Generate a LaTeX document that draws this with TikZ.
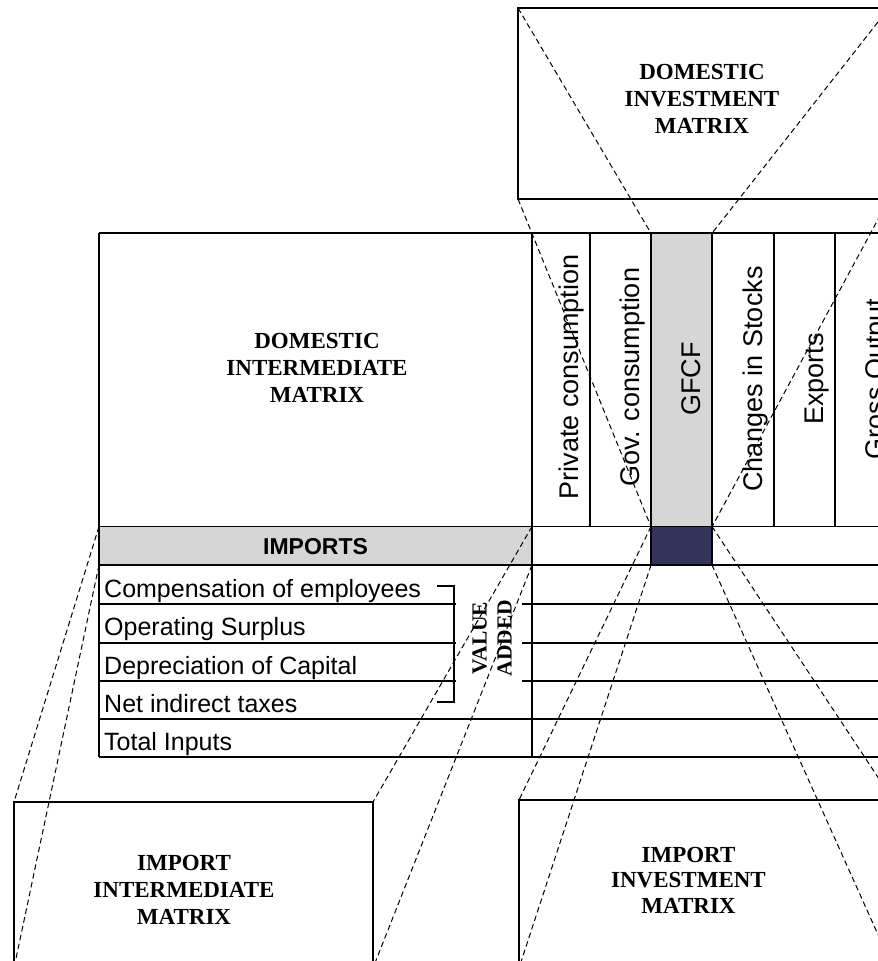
\documentclass[tikz,border=0pt]{standalone}
\usepackage{fontspec}
\setmainfont{Liberation Serif}
\setsansfont{Liberation Sans}
\definecolor{stipple}{HTML}{D6D6D6}
\definecolor{stippledark}{HTML}{34345A}
\begin{document}
\begin{tikzpicture}[x=1pt,y=-1pt,
  grid/.style={line width=1.7pt},
  frame/.style={draw, line width=1.3pt, inner sep=0pt, outer sep=0pt},
  cell/.style={inner sep=0pt, outer sep=0pt},
  title/.style={font=\bfseries\fontsize{23}{27}\selectfont, align=center, inner sep=0pt},
  rowlabel/.style={font=\sffamily\fontsize{25}{30}\selectfont, anchor=base west, inner sep=0pt},
  collabel/.style={font=\sffamily\fontsize{27}{32}\selectfont, rotate=90, anchor=base, inner sep=0pt},
  proj/.style={line width=1pt, dash pattern=on 5.5pt off 3.5pt}
]
\useasboundingbox (0,0) rectangle (878,961);
\clip (0,0) rectangle (878,961);

% shaded cells: GFCF column, imports row and their crossing
\node[cell, fill=stipple, minimum width=61pt, minimum height=293.5pt] (gfcf) at (681.5,380) {};
\node[cell, fill=stippledark, minimum width=61pt, minimum height=38.5pt] (mgfcf) at (681.5,545.75) {};
\node[cell, fill=stipple, minimum width=433pt, minimum height=38.5pt] (imp) at (315.5,545.75) {};

% table rules
\draw[grid] (99,233) -- (900,233);
\draw[grid] (99,233) -- (99,757);
\draw[grid] (532,233) -- (532,757);
\draw[grid] (99,526.5) -- (900,526.5);
\draw[grid] (99,565) -- (900,565);
\foreach \yy in {604,643,681,719}
  \draw[grid] (99,\yy) -- (900,\yy);
\draw[grid] (99,757) -- (900,757);
\foreach \xx in {590,774,835,896}
  \draw[grid] (\xx,233) -- (\xx,526.5);
\foreach \xx in {651,712}
  \draw[grid] (\xx,233) -- (\xx,565);

% block titles
\node[title] (dim) at (317,367.5) {DOMESTIC\\INTERMEDIATE\\MATRIX};
\node[font=\sffamily\bfseries\fontsize{23}{27}\selectfont, inner sep=0pt] (imptxt) at (315.5,546.5) {IMPORTS};

% final demand columns
\node[collabel] (pc) at (578,377) {Private consumption};
\node[collabel] (gc) at (639.5,377) {Gov. consumption};
\node[collabel] (gf) at (700,379) {GFCF};
\node[collabel] (cs) at (762,379) {Changes in Stocks};
\node[collabel] (ex) at (823,379) {Exports};
\node[collabel] (go) at (884,379) {Gross Output};

% primary input rows
\node[rowlabel] (r1) at (104,597) {Compensation of employees};
\node[rowlabel] (r2) at (104,635.5) {Operating Surplus};
\node[rowlabel] (r3) at (104,674) {Depreciation of Capital};
\node[rowlabel] (r4) at (104,712) {Net indirect taxes};
\node[rowlabel] (r5) at (104,750) {Total Inputs};

% value added brace
\fill[white] (455.5,587) rectangle (522,701);
\node[font=\bfseries\fontsize{21.5}{25}\selectfont, rotate=90, align=center, inner sep=0pt] (va) at (492,638) {VALUE\\ADDED};
\draw[line width=1.3pt] (437,586) -| (454,702) -- (437,702);

% detail matrices
\node[frame, minimum width=371pt, minimum height=191pt] (dinv) at (703.5,103.5) {};
\node[title] (dinvtxt) at (702,99) {DOMESTIC\\INVESTMENT\\MATRIX};
\node[frame, minimum width=359pt, minimum height=166pt] (iint) at (193.5,885) {};
\node[title] (iinttxt) at (184,889.5) {IMPORT\\INTERMEDIATE\\MATRIX};
\node[frame, minimum width=374pt, minimum height=168pt] (iinv) at (706,884) {};
\node[title, font=\bfseries\fontsize{23}{25.5}\selectfont] (iinvtxt) at (688.5,880) {IMPORT\\INVESTMENT\\MATRIX};

% projection lines
\draw[proj] (dinv.north west) -- (gfcf.north west);
\draw[proj] (dinv.south west) -- (gfcf.south west);
\draw[proj] (dinv.north east) -- (gfcf.north east);
\draw[proj] (dinv.south east) -- (gfcf.south east);
\draw[proj] (mgfcf.north west) -- (iinv.north west);
\draw[proj] (mgfcf.south west) -- (iinv.south west);
\draw[proj] (mgfcf.north east) -- (iinv.north east);
\draw[proj] (mgfcf.south east) -- (iinv.south east);
\draw[proj] (imp.north west) -- (iint.north west);
\draw[proj] (imp.south west) -- (iint.south west);
\draw[proj] (imp.north east) -- (iint.north east);
\draw[proj] (imp.south east) -- (iint.south east);
\end{tikzpicture}
\end{document}
